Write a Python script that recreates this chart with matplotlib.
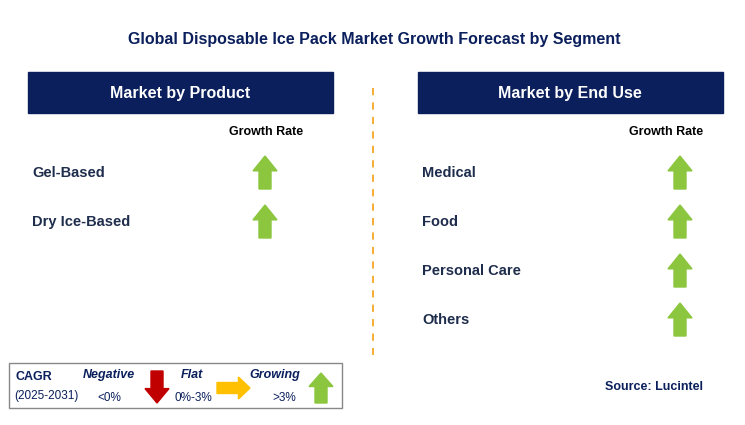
import matplotlib
matplotlib.use('Agg')
import matplotlib.pyplot as plt
from matplotlib.patches import Rectangle, Polygon

plt.rcParams['font.family'] = 'Liberation Sans'

title = 'Global Disposable Ice Pack Market Growth Forecast by Segment'
product_segments = ['Gel-Based', 'Dry Ice-Based']
product_growth = ['growing', 'growing']
enduse_segments = ['Medical', 'Food', 'Personal Care', 'Others']
enduse_growth = ['growing', 'growing', 'growing', 'growing']

NAVY = '#0a1f5c'
GREEN = '#8cc63f'
RED = '#c00000'
YELLOW = '#ffc000'
TXT = '#1f2d4d'

fig = plt.figure(figsize=(7.45, 4.25), dpi=100)
ax = fig.add_axes([0, 0, 1, 1])
ax.set_xlim(0, 745)
ax.set_ylim(425, 0)
ax.axis('off')


def up_arrow(x, y_top, h=33, w=24, bw=12, color=GREEN):
    hh = h * 0.45
    pts = [(x, y_top), (x + w / 2, y_top + hh), (x + bw / 2, y_top + hh),
           (x + bw / 2, y_top + h), (x - bw / 2, y_top + h),
           (x - bw / 2, y_top + hh), (x - w / 2, y_top + hh)]
    ax.add_patch(Polygon(pts, closed=True, color=color))


def down_arrow(x, y_top, h=32, w=24, bw=12, color=RED):
    hh = h * 0.45
    yb = y_top + h
    pts = [(x, yb), (x + w / 2, yb - hh), (x + bw / 2, yb - hh),
           (x + bw / 2, y_top), (x - bw / 2, y_top),
           (x - bw / 2, yb - hh), (x - w / 2, yb - hh)]
    ax.add_patch(Polygon(pts, closed=True, color=color))


def right_arrow(x_left, y, L=36, h=22, bh=11, color=YELLOW):
    hl = L * 0.35
    xr = x_left + L
    pts = [(xr, y), (xr - hl, y - h / 2), (xr - hl, y - bh / 2),
           (x_left, y - bh / 2), (x_left, y + bh / 2),
           (xr - hl, y + bh / 2), (xr - hl, y + h / 2)]
    ax.add_patch(Polygon(pts, closed=True, color=color))


ax.text(374, 39, title, ha='center', va='center', fontsize=11.5, fontweight='bold', color=NAVY)


def panel(x0, header, segs, growth, arrow_x, label_x):
    ax.add_patch(Rectangle((x0, 72), 305, 41, color=NAVY))
    ax.text(x0 + 152, 93, header, ha='center', va='center', fontsize=11.5, fontweight='bold', color='white')
    ax.text(label_x, 132, 'Growth Rate', ha='center', va='center', fontsize=9, fontweight='bold', color='black')
    for i, (s, g) in enumerate(zip(segs, growth)):
        y = 173 + i * 49
        ax.text(x0 + 4, y, s, ha='left', va='center', fontsize=10.5, fontweight='bold', color=TXT)
        if g == 'growing':
            up_arrow(arrow_x, y - 17)


panel(28, 'Market by Product', product_segments, product_growth, 265, 266)
panel(418, 'Market by End Use', enduse_segments, enduse_growth, 680, 666)

ax.plot([373, 373], [88, 355], color='#f5a623', linestyle=(0, (4, 4)), linewidth=1.3)

# legend box
ax.add_patch(Rectangle((9, 363), 333, 45, fill=False, edgecolor='#888888', linewidth=1))
ax.text(16, 377, 'CAGR', fontsize=9, fontweight='bold', color=NAVY, va='center')
ax.text(14, 396, '(2025-2031)', fontsize=8.5, color=NAVY, va='center')
ax.text(109, 375, 'Negative', fontsize=9, fontweight='bold', style='italic', color=NAVY, ha='center', va='center')
ax.text(109, 398, '<0%', fontsize=8.5, color=NAVY, ha='center', va='center')
down_arrow(157, 371, h=32)
ax.text(192, 375, 'Flat', fontsize=9, fontweight='bold', style='italic', color=NAVY, ha='center', va='center')
ax.text(193, 398, '0%-3%', fontsize=8.5, color=NAVY, ha='center', va='center')
right_arrow(217, 388, L=33)
ax.text(275, 375, 'Growing', fontsize=9, fontweight='bold', style='italic', color=NAVY, ha='center', va='center')
ax.text(284, 398, '>3%', fontsize=8.5, color=NAVY, ha='center', va='center')
up_arrow(321, 373, h=30)

ax.text(703, 387, 'Source: Lucintel', fontsize=9, fontweight='bold', color=NAVY, ha='right', va='center')

fig.savefig('out.png', dpi=100)
